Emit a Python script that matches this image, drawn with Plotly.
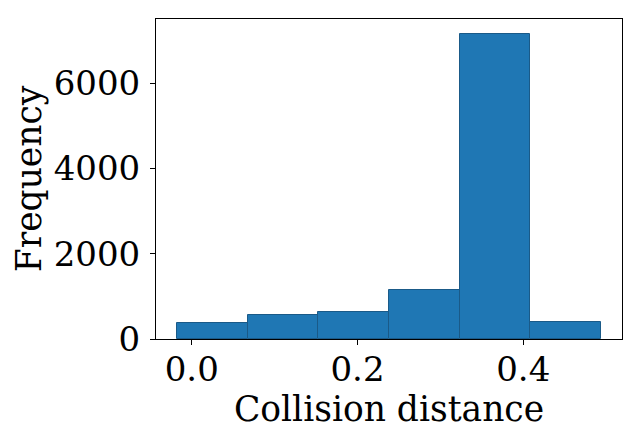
import plotly.graph_objects as go

# histogram of collision distances, 6 bins
BIN_EDGES = [-0.0176, 0.0676, 0.1528, 0.2380, 0.3232, 0.4084, 0.4936]
COUNTS = [382, 569, 632, 1147, 7147, 398]

X_TICKS = [0.0, 0.2, 0.4]
X_TICK_TEXT = ["0.0", "0.2", "0.4"]
Y_TICKS = [0, 2000, 4000, 6000]
Y_TICK_TEXT = ["0", "2000", "4000", "6000"]

TICK_FONT = dict(family="DejaVu Serif", size=34, color="black")
TITLE_FONT = dict(family="DejaVu Serif", size=34.5, color="black")

centers = [(a + b) / 2 for a, b in zip(BIN_EDGES[:-1], BIN_EDGES[1:])]
widths = [b - a for a, b in zip(BIN_EDGES[:-1], BIN_EDGES[1:])]

fig = go.Figure(go.Bar(
    x=centers, y=COUNTS, width=widths,
    marker=dict(color="#1f77b4", line=dict(color="#1a5a88", width=1)),
    showlegend=False,
))

span = BIN_EDGES[-1] - BIN_EDGES[0]
fig.update_xaxes(
    range=[BIN_EDGES[0] - 0.05 * span, BIN_EDGES[-1] + 0.05 * span],
    tickvals=X_TICKS, ticktext=X_TICK_TEXT,
    ticks="outside", ticklen=5, tickcolor="black",
    showline=True, mirror=True, linecolor="black", linewidth=1,
    showgrid=False, zeroline=False, automargin=False,
    tickfont=TICK_FONT, ticklabelstandoff=-5,
    title=dict(text="Collision distance", font=TITLE_FONT, standoff=8),
)
fig.update_yaxes(
    range=[0, max(COUNTS) * 1.05],
    tickvals=Y_TICKS, ticktext=Y_TICK_TEXT,
    ticks="outside", ticklen=5, tickcolor="black",
    showline=True, mirror=True, linecolor="black", linewidth=1,
    showgrid=False, zeroline=False, automargin=False,
    tickfont=TICK_FONT, ticklabelstandoff=3,
    title=dict(text="Frequency", font=TITLE_FONT, standoff=1),
)
# page body adds 8px offset, so margins are shifted to compensate
fig.update_layout(
    width=640, height=440,
    margin=dict(l=148, r=26, t=11, b=109),
    plot_bgcolor="white", paper_bgcolor="white",
    bargap=0,
)
fig.write_html("out.html")
